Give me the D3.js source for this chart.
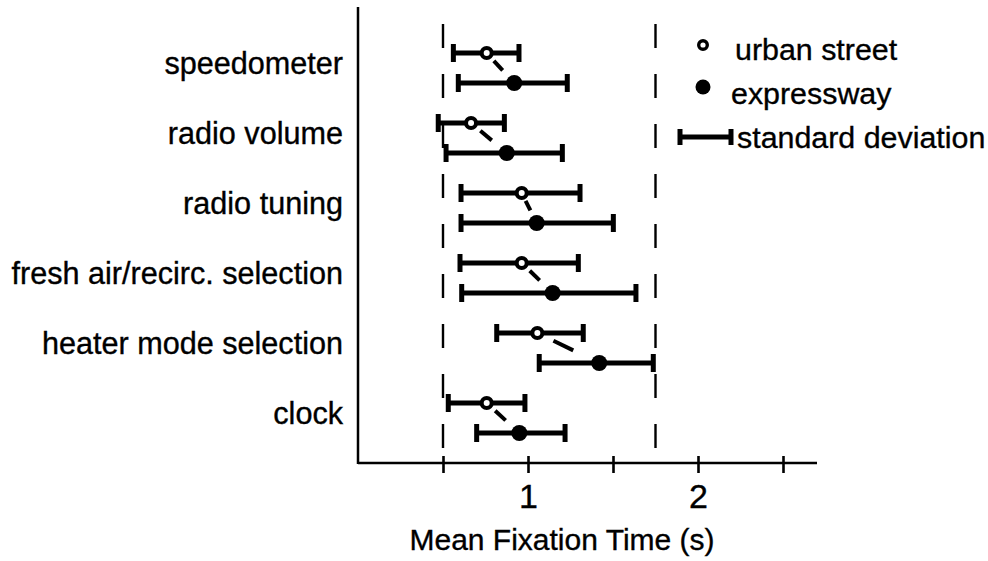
<!DOCTYPE html>
<html>
<head>
<meta charset="utf-8">
<script src="https://cdn.jsdelivr.net/npm/d3@7"></script>
<style>
  html, body { margin: 0; padding: 0; background: #fff; }
  svg { display: block; }
  text { font-family: "Liberation Sans", Arial, Helvetica, sans-serif; fill: #000; stroke: #000; stroke-width: 0.35px; }
</style>
</head>
<body>
<svg id="chart" width="988" height="561"></svg>
<script>
// ---- data ----
const categories = ["speedometer", "radio volume", "radio tuning",
  "fresh air/recirc. selection", "heater mode selection", "clock"];
const urbanMean  = [0.757, 0.665, 0.963, 0.963, 1.055, 0.757];
const urbanLow   = [0.561, 0.472, 0.606, 0.600, 0.816, 0.531];
const urbanHigh  = [0.947, 0.861, 1.306, 1.296, 1.325, 0.982];
const expressMean = [0.919, 0.875, 1.051, 1.145, 1.419, 0.949];
const expressLow  = [0.590, 0.518, 0.606, 0.610, 1.066, 0.698];
const expressHigh = [1.231, 1.202, 1.502, 1.635, 1.737, 1.218];
const thresholds = [0.5, 1.75];
const xTicks = [0.5, 1, 1.5, 2, 2.5];
const xTickLabels = {1: "1", 2: "2"};
const legendLabels = ["urban street", "expressway", "standard deviation"];
const xTitle = "Mean Fixation Time (s)";

// ---- layout ----
const svg = d3.select("#chart");
const x = d3.scaleLinear().domain([0, 2.7]).range([358, 817]);
const y = d3.scalePoint().domain(categories).range([68, 418]);
const axisY = 463, axisTop = 7;
const off = 15;

// dashed threshold lines
svg.selectAll("line.thr").data(thresholds).enter().append("line")
  .attr("class", "thr")
  .attr("x1", d => x(d)).attr("x2", d => x(d))
  .attr("y1", 24).attr("y2", axisY - 14)
  .attr("stroke", "#000").attr("stroke-width", 2.4)
  .attr("stroke-dasharray", "24,26");

// y axis line
svg.append("line").attr("x1", x(0)).attr("x2", x(0))
  .attr("y1", axisTop).attr("y2", axisY + 1)
  .attr("stroke", "#000").attr("stroke-width", 2.5);

// x axis
const xAxis = d3.axisBottom(x).tickValues(xTicks)
  .tickSize(0).tickFormat(d => xTickLabels[d] || "");
const gx = svg.append("g").attr("transform", `translate(0,${axisY})`).call(xAxis);
gx.select(".domain").remove();
gx.append("line").attr("x1", x(0)).attr("x2", x(2.7))
  .attr("stroke", "#000").attr("stroke-width", 2.6);
gx.selectAll(".tick line").remove();
gx.selectAll(".tick").append("line")
  .attr("y1", -7).attr("y2", 10)
  .attr("stroke", "#000").attr("stroke-width", 2.6);
gx.selectAll(".tick text")
  .attr("y", 45).attr("dy", 0)
  .style("font-size", "34px")
  .style("font-family", "'Liberation Sans', Arial, Helvetica, sans-serif")
  .attr("fill", "#000");

// category labels
svg.selectAll("text.cat").data(categories).enter().append("text")
  .attr("class", "cat")
  .attr("x", 343).attr("y", d => y(d) + 6)
  .attr("text-anchor", "end")
  .style("font-size", "30.6px")
  .text(d => d);

// rows
const rows = categories.map((c, i) => ({
  c,
  u: {m: urbanMean[i], lo: urbanLow[i], hi: urbanHigh[i], yy: y(c) - off},
  e: {m: expressMean[i], lo: expressLow[i], hi: expressHigh[i], yy: y(c) + off}
}));

// connecting segment (middle portion of line between the two means)
rows.forEach(r => {
  const x1 = x(r.u.m), y1 = r.u.yy, x2 = x(r.e.m), y2 = r.e.yy;
  const a = 0.26, b = 0.58;
  svg.append("line")
    .attr("x1", x1 + (x2 - x1) * a).attr("y1", y1 + (y2 - y1) * a)
    .attr("x2", x1 + (x2 - x1) * b).attr("y2", y1 + (y2 - y1) * b)
    .attr("stroke", "#000").attr("stroke-width", 4);
});

function errorBar(g, d) {
  g.append("line").attr("x1", x(d.lo)).attr("x2", x(d.hi))
    .attr("y1", d.yy).attr("y2", d.yy)
    .attr("stroke", "#000").attr("stroke-width", 5);
  [d.lo, d.hi].forEach(v => {
    g.append("line").attr("x1", x(v)).attr("x2", x(v))
      .attr("y1", d.yy - 9).attr("y2", d.yy + 9)
      .attr("stroke", "#000").attr("stroke-width", 5);
  });
}

rows.forEach(r => {
  const g = svg.append("g");
  errorBar(g, r.u);
  errorBar(g, r.e);
  g.append("circle").attr("cx", x(r.u.m)).attr("cy", r.u.yy).attr("r", 5)
    .attr("fill", "#fff").attr("stroke", "#000").attr("stroke-width", 4);
  g.append("circle").attr("cx", x(r.e.m)).attr("cy", r.e.yy).attr("r", 8)
    .attr("fill", "#000");
});

// legend
const lg = svg.append("g");
lg.append("circle").attr("cx", 703).attr("cy", 45).attr("r", 4.3)
  .attr("fill", "#fff").attr("stroke", "#000").attr("stroke-width", 3.4);
lg.append("circle").attr("cx", 703).attr("cy", 87).attr("r", 7.5).attr("fill", "#000");
lg.append("line").attr("x1", 680).attr("x2", 731).attr("y1", 137).attr("y2", 137)
  .attr("stroke", "#000").attr("stroke-width", 5);
[680, 731].forEach(xx => lg.append("line").attr("x1", xx).attr("x2", xx)
  .attr("y1", 129).attr("y2", 145).attr("stroke", "#000").attr("stroke-width", 5));
const legX = [735, 731, 737], legY = [60, 104, 148];
legendLabels.forEach((t, i) => {
  lg.append("text").attr("x", legX[i]).attr("y", legY[i])
    .style("font-size", "30.4px").text(t);
});

// x title
svg.append("text").attr("x", 562).attr("y", 550)
  .attr("text-anchor", "middle").style("font-size", "30px").text(xTitle);
</script>
</body>
</html>
